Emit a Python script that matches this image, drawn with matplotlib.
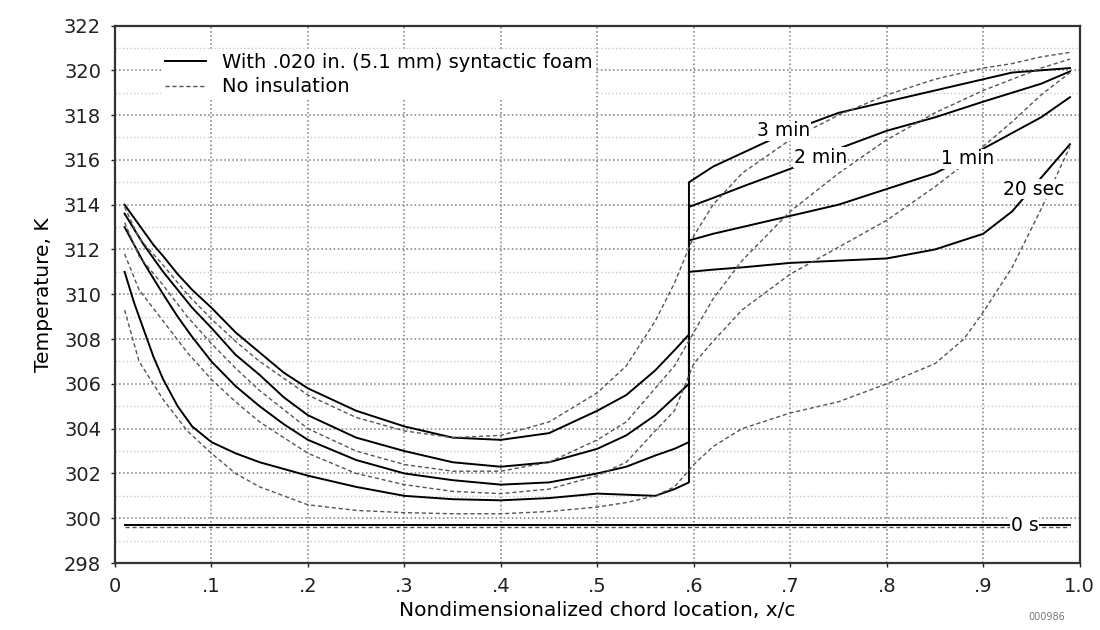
import matplotlib
matplotlib.use("Agg")
import matplotlib.pyplot as plt
from matplotlib.lines import Line2D
import numpy as np

# chord locations used for the insulated (solid) curves, jump at x/c = .595
x_solid = [0.01, 0.02, 0.03, 0.04, 0.05, 0.065, 0.08, 0.1, 0.125, 0.15, 0.175, 0.2,
           0.25, 0.3, 0.35, 0.4, 0.45, 0.5, 0.53, 0.56, 0.58, 0.595,
           0.595, 0.62, 0.65, 0.7, 0.75, 0.8, 0.85, 0.9, 0.93, 0.96, 0.99]

foam_3min = [314.0, 313.4, 312.8, 312.2, 311.7, 310.9, 310.2, 309.4, 308.3, 307.4, 306.5, 305.8,
             304.8, 304.1, 303.6, 303.5, 303.8, 304.8, 305.5, 306.6, 307.5, 308.2,
             315.0, 315.7, 316.3, 317.3, 318.1, 318.6, 319.1, 319.6, 319.9, 320.0, 320.1]
foam_2min = [313.6, 312.9, 312.2, 311.6, 311.0, 310.2, 309.4, 308.5, 307.3, 306.4, 305.4, 304.6,
             303.6, 303.0, 302.5, 302.3, 302.5, 303.1, 303.7, 304.6, 305.4, 306.0,
             313.9, 314.3, 314.8, 315.6, 316.5, 317.3, 317.9, 318.6, 319.0, 319.4, 319.95]
foam_1min = [313.0, 312.2, 311.4, 310.7, 310.0, 309.0, 308.1, 307.0, 305.9, 305.0, 304.2, 303.5,
             302.6, 302.0, 301.7, 301.5, 301.6, 302.0, 302.3, 302.8, 303.1, 303.4,
             312.4, 312.7, 313.0, 313.5, 314.0, 314.7, 315.4, 316.5, 317.2, 317.9, 318.8]
foam_20s = [311.0, 309.6, 308.4, 307.2, 306.2, 305.0, 304.1, 303.4, 302.9, 302.5, 302.2, 301.9,
            301.4, 301.0, 300.85, 300.8, 300.9, 301.1, 301.05, 301.0, 301.3, 301.6,
            311.0, 311.1, 311.2, 311.4, 311.5, 311.6, 312.0, 312.7, 313.7, 315.2, 316.7]

# chord locations for the uninsulated (dashed) curves
x_dash = [0.01, 0.025, 0.05, 0.075, 0.1, 0.125, 0.15, 0.2, 0.25, 0.3, 0.35, 0.4, 0.45, 0.5,
          0.53, 0.56, 0.58, 0.6, 0.62, 0.65, 0.7, 0.75, 0.8, 0.85, 0.88, 0.9, 0.93, 0.96, 0.99]

bare_3min = [313.9, 312.5, 311.3, 310.0, 308.9, 307.9, 307.0, 305.5, 304.5, 303.9, 303.6, 303.7, 304.3, 305.6,
             306.8, 308.8, 310.5, 312.6, 314.0, 315.4, 316.9, 318.0, 318.9, 319.6, 319.9, 320.1, 320.3, 320.6, 320.8]
bare_2min = [313.2, 311.7, 310.4, 309.0, 307.8, 306.7, 305.7, 304.0, 303.0, 302.4, 302.1, 302.1, 302.5, 303.5,
             304.3, 305.8, 306.8, 308.3, 309.8, 311.5, 313.7, 315.4, 316.9, 318.1, 318.7, 319.1, 319.6, 320.1, 320.5]
bare_1min = [311.8, 310.2, 308.8, 307.4, 306.2, 305.2, 304.3, 302.9, 302.0, 301.5, 301.2, 301.1, 301.3, 301.9,
             302.5, 303.9, 304.8, 306.9, 307.9, 309.3, 310.9, 312.1, 313.3, 314.8, 315.8, 316.6, 317.7, 318.9, 319.9]
bare_20s = [309.3, 307.0, 305.3, 303.9, 302.9, 302.0, 301.4, 300.6, 300.35, 300.25, 300.2, 300.2, 300.3, 300.5,
            300.7, 301.0, 301.4, 302.4, 303.2, 304.0, 304.7, 305.2, 306.0, 306.9, 308.0, 309.2, 311.2, 313.8, 316.6]

# initial condition, 0 s
x_zero = [0.01, 0.99]
foam_0s = [299.72, 299.72]
bare_0s = [299.62, 299.62]

# curve labels: text, x/c, temperature
labels = [("3 min", 0.693, 317.3), ("2 min", 0.731, 316.1), ("1 min", 0.884, 316.05),
          ("20 sec", 0.952, 314.7), ("0 s", 0.943, 299.68)]

x_ticks = [0, 0.1, 0.2, 0.3, 0.4, 0.5, 0.6, 0.7, 0.8, 0.9, 1.0]
x_ticklabels = ["0", ".1", ".2", ".3", ".4", ".5", ".6", ".7", ".8", ".9", "1.0"]
y_ticks = list(range(298, 323, 2))

plt.rcParams['font.family'] = ['DejaVu Sans']
fig = plt.figure(figsize=(11, 6.3), dpi=100)
ax = fig.add_axes([0.1045, 0.1063, 0.877, 0.8532])

solid_kw = dict(color='black', lw=1.4, ls='-')
dash_kw = dict(color='#555555', lw=1.0, ls=(0, (3, 2)))

for ys in [foam_3min, foam_2min, foam_1min, foam_20s]:
    ax.plot(x_solid, ys, **solid_kw)
for ys in [bare_3min, bare_2min, bare_1min, bare_20s]:
    ax.plot(x_dash, ys, **dash_kw)
ax.plot(x_zero, foam_0s, **solid_kw)
ax.plot(x_zero, bare_0s, **dash_kw)

for txt, xv, yv in labels:
    ax.text(xv, yv, txt, fontsize=13.5, ha='center', va='center', zorder=5,
            bbox=dict(facecolor='white', edgecolor='none', pad=0.5))

ax.set_xlim(0, 1.0)
ax.set_ylim(298, 322)
ax.set_xticks(x_ticks)
ax.set_xticklabels(x_ticklabels)
ax.set_yticks(y_ticks)
ax.set_yticks(np.arange(299, 322, 2), minor=True)
ax.tick_params(axis='both', labelsize=14, length=3, width=1, pad=7, colors='#222222')
ax.tick_params(axis='y', which='minor', length=0)

ax.grid(True, which='major', color='#7a7a7a', ls=':', lw=1.1)
ax.grid(True, which='minor', axis='y', color='#c8c8c8', ls=':', lw=1.0)
ax.set_axisbelow(True)
for sp in ax.spines.values():
    sp.set_color('#333333')
    sp.set_linewidth(1.6)

ax.set_xlabel("Nondimensionalized chord location, x/c", fontsize=14.5, labelpad=4)
ax.set_ylabel("Temperature, K", fontsize=14.5, labelpad=8)

handles = [Line2D([], [], **solid_kw), Line2D([], [], **dash_kw)]
leg = ax.legend(handles, ["With .020 in. (5.1 mm) syntactic foam", "No insulation"],
                loc='upper left', bbox_to_anchor=(0.038, 0.975), fontsize=14,
                frameon=True, framealpha=1, edgecolor='none', handlelength=2.1,
                handletextpad=0.8, labelspacing=0.3, borderpad=0.2)

fig.text(0.952, 0.012, "000986", fontsize=7, color='#777777', ha='center', va='bottom')

fig.savefig("out.png", dpi=100)
